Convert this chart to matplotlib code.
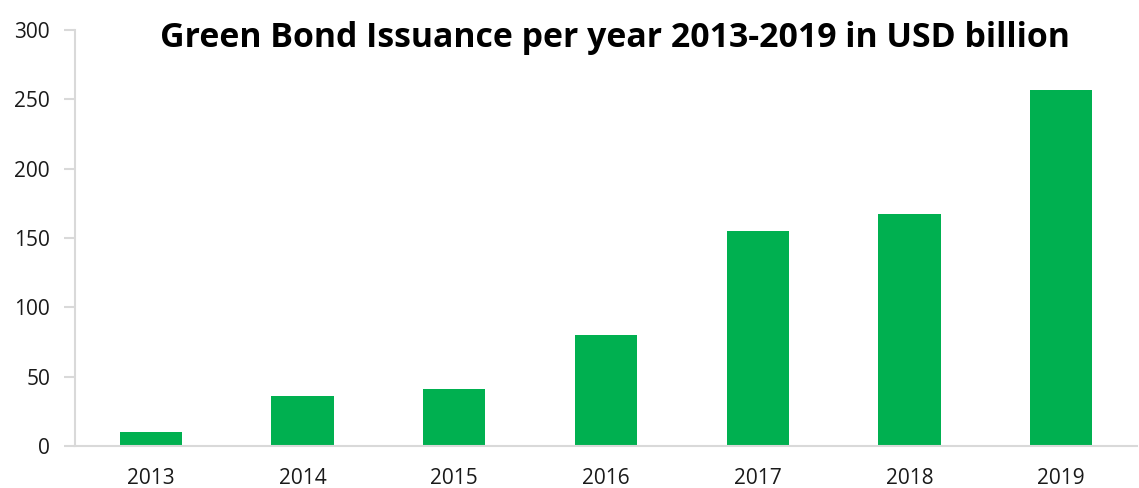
import matplotlib.pyplot as plt
import numpy as np

# data
years = ["2013", "2014", "2015", "2016", "2017", "2018", "2019"]
issuance = [10.3, 35.8, 41.0, 80.0, 155.0, 167.0, 257.0]
yticks = [0, 50, 100, 150, 200, 250, 300]

green = "#00b050"
axis_grey = "#d9d9d9"

plt.rcParams["font.family"] = ["Open Sans", "DejaVu Sans"]

fig = plt.figure(figsize=(11.39, 4.88), dpi=100)
ax = fig.add_axes([75 / 1139, 42 / 488, 1062 / 1139, 416 / 488])

x = np.arange(len(years))
ax.bar(x, issuance, width=0.41, color=green, zorder=2)

ax.set_xlim(-0.5, len(years) - 0.5)
ax.set_ylim(0, 300)
ax.set_xticks(x)
ax.set_xticklabels(years)
ax.set_yticks(yticks)

for side in ["top", "right"]:
    ax.spines[side].set_visible(False)
for side in ["left", "bottom"]:
    ax.spines[side].set_color(axis_grey)
    ax.spines[side].set_linewidth(1.5)

ax.tick_params(axis="x", length=0, pad=16, labelsize=15, labelcolor="#1a1a1a")
ax.tick_params(axis="y", length=8, width=1.5, color=axis_grey, pad=10,
               labelsize=15, labelcolor="#1a1a1a")

fig.text(615 / 1139, (488 - 47) / 488, "Green Bond Issuance per year 2013-2019 in USD billion",
         ha="center", va="baseline", fontsize=24.4, fontweight="bold", color="black")

fig.savefig("out.png", dpi=100)
